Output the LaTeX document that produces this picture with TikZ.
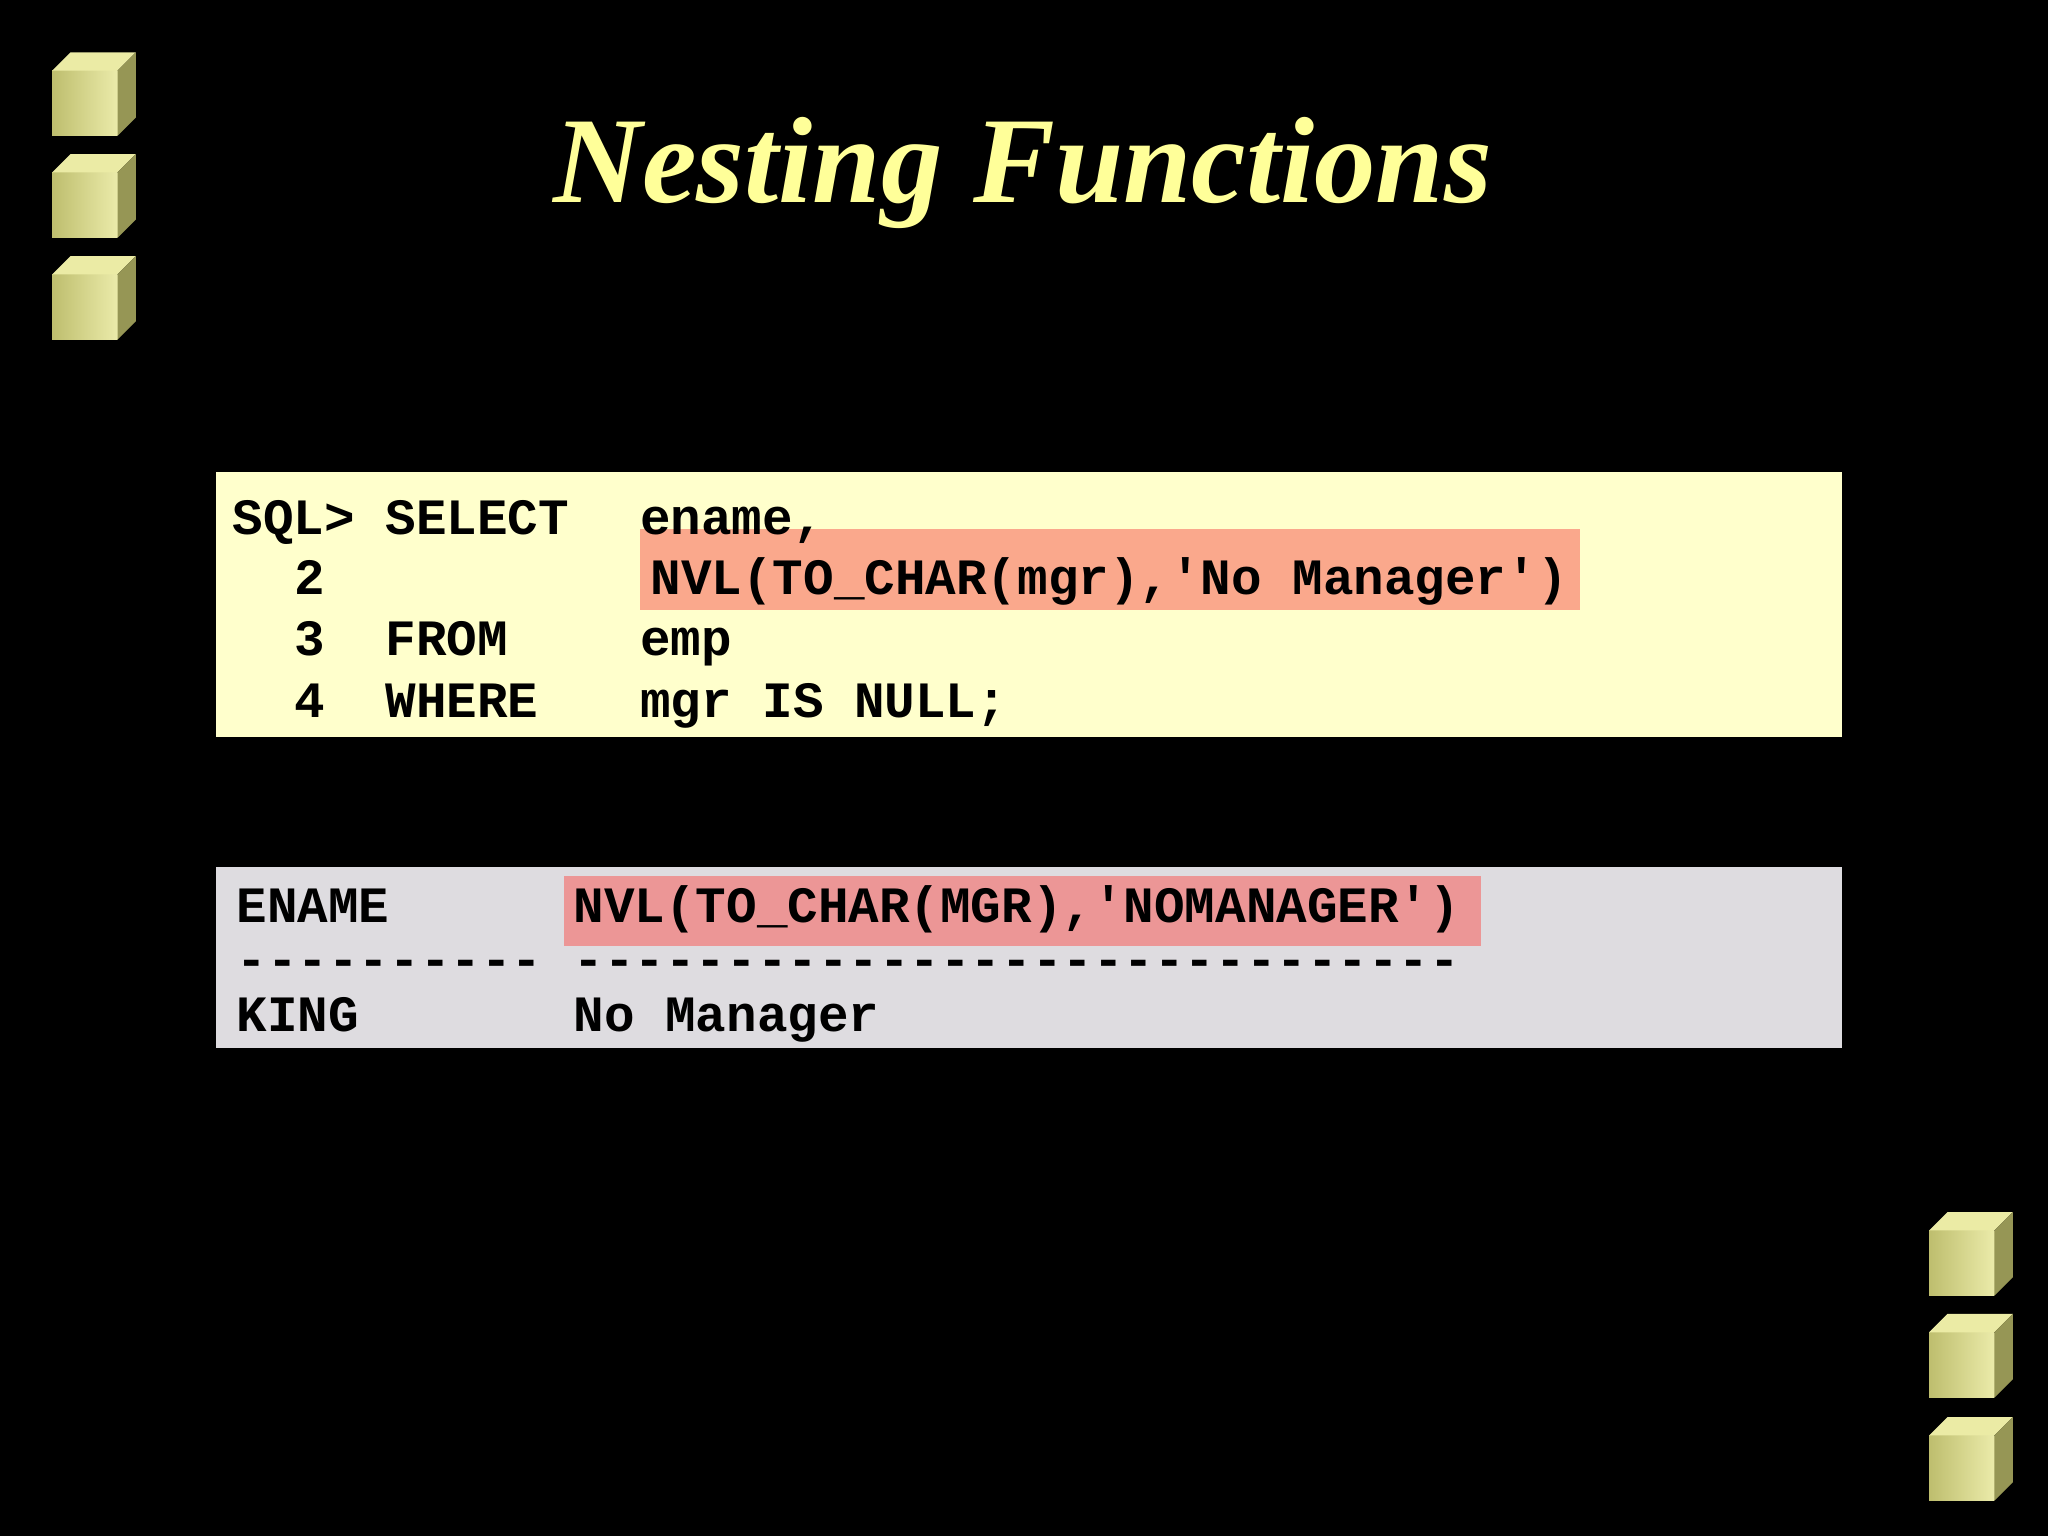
\documentclass[tikz,border=0pt]{standalone}
\usepackage{fontspec}
\setmainfont{Liberation Serif}
\setmonofont{Liberation Mono}
\definecolor{cubeL}{RGB}{190,190,110}
\definecolor{cubeR}{RGB}{235,235,170}
\definecolor{cubeT}{RGB}{235,235,165}
\definecolor{cubeS}{RGB}{150,150,85}
\definecolor{titlec}{RGB}{255,255,153}
\definecolor{codebg}{RGB}{255,255,204}
\definecolor{hl1}{RGB}{250,168,140}
\definecolor{resbg}{RGB}{222,220,224}
\definecolor{hl2}{RGB}{236,150,150}
\begin{document}
\begin{tikzpicture}[x=1pt,y=-1pt,
  code/.style={anchor=base west,inner sep=0pt,font=\ttfamily\bfseries\fontsize{39}{40}\selectfont,text=black},
  cubefront/.style={left color=cubeL, right color=cubeR, draw=none},
]
\fill[black] (0,0) rectangle (1568,1176);
\useasboundingbox (0,0) rectangle (1568,1176);
\newcommand{\mycube}[2]{%
  \fill[cubefront] (#1,#2+14) rectangle (#1+50,#2+64);
  \fill[cubeT] (#1,#2+14) -- (#1+14,#2) -- (#1+64,#2) -- (#1+50,#2+14) -- cycle;
  \fill[cubeS] (#1+50,#2+14) -- (#1+64,#2) -- (#1+64,#2+50) -- (#1+50,#2+64) -- cycle;}
\mycube{40}{40}\mycube{40}{118}\mycube{40}{196}
\mycube{1477}{928}\mycube{1477}{1006}\mycube{1477}{1085}
\node[text=titlec,font=\fontsize{94}{100}\selectfont\bfseries\itshape,anchor=base] (title) at (783,155) {Nesting Functions};
\fill[codebg] (165,361) rectangle (1410,564);
\fill[hl1] (490,405) rectangle (1210,467);
\node[code] (l1a) at (178,409) {SQL> SELECT};
\node[code] (l1b) at (490,409) {ename,};
\node[code] (l2a) at (225,455) {2};
\node[code] (l2b) at (498,455) {NVL(TO\_CHAR(mgr),'No Manager')};
\node[code] (l3a) at (225,502) {3};
\node[code] (l3b) at (295,502) {FROM};
\node[code] (l3c) at (490,502) {emp};
\node[code] (l4a) at (225,549) {4};
\node[code] (l4b) at (295,549) {WHERE};
\node[code] (l4c) at (490,549) {mgr IS NULL;};
\fill[resbg] (165,664) rectangle (1410,802);
\fill[hl2] (432,671) rectangle (1134,724);
\node[code] (r1a) at (181,706) {ENAME};
\node[code] (r1b) at (439,706) {NVL(TO\_CHAR(MGR),'NOMANAGER')};
\node[code] (r2a) at (181,748) {----------};
\node[code] (r2b) at (439,748) {-----------------------------};
\node[code] (r3a) at (181,790) {KING};
\node[code] (r3b) at (439,790) {No Manager};
\end{tikzpicture}
\end{document}
